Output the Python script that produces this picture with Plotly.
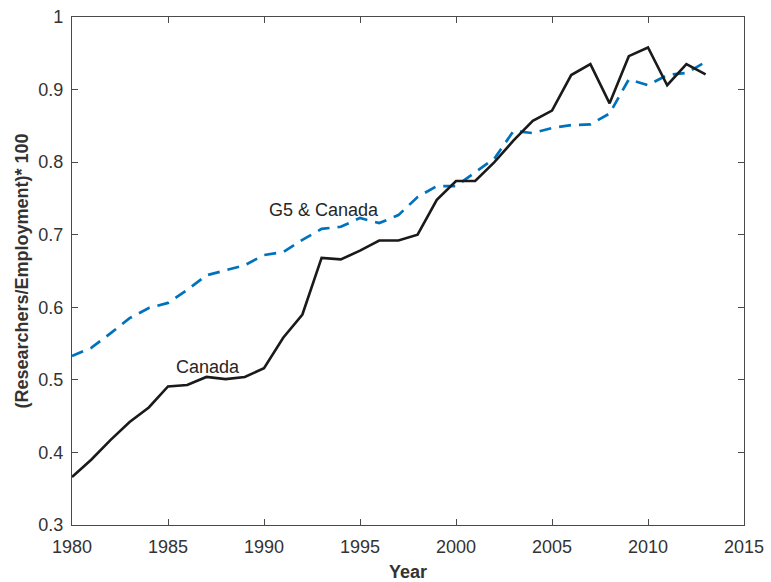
import plotly.graph_objects as go

years = list(range(1980, 2014))

canada = [0.366, 0.390, 0.417, 0.442, 0.462, 0.491, 0.493, 0.504, 0.501, 0.504,
          0.516, 0.558, 0.590, 0.668, 0.666, 0.678, 0.692, 0.692, 0.700, 0.748,
          0.774, 0.774, 0.800, 0.830, 0.857, 0.871, 0.920, 0.935, 0.881, 0.946,
          0.958, 0.906, 0.935, 0.921]

g5_canada = [0.533, 0.544, 0.564, 0.585, 0.599, 0.606, 0.624, 0.644, 0.651, 0.658,
             0.672, 0.676, 0.693, 0.708, 0.711, 0.723, 0.716, 0.727, 0.752, 0.767,
             0.767, 0.786, 0.805, 0.843, 0.840, 0.847, 0.851, 0.852, 0.867, 0.914,
             0.906, 0.920, 0.923, 0.938]

x_ticks = [1980, 1985, 1990, 1995, 2000, 2005, 2010, 2015]
y_ticks = [0.3, 0.4, 0.5, 0.6, 0.7, 0.8, 0.9, 1.0]
y_tick_text = ["0.3", "0.4", "0.5", "0.6", "0.7", "0.8", "0.9", "1"]

FONT = "Liberation Sans, Arial, sans-serif"
AXIS = "#4a4a4a"
TEXT = "#333333"

fig = go.Figure()
fig.add_trace(go.Scatter(x=years, y=g5_canada, mode="lines", name="G5 & Canada",
                         line=dict(color="#0072BD", width=2.7, dash="12px,8px")))
fig.add_trace(go.Scatter(x=years, y=canada, mode="lines", name="Canada",
                         line=dict(color="#1a1a1a", width=2.6)))

fig.add_annotation(x=1987.1, y=0.518, text="Canada", showarrow=False,
                   font=dict(family=FONT, size=18, color="#262626"))
fig.add_annotation(x=1993.15, y=0.734, text="G5 &amp; Canada", showarrow=False,
                   font=dict(family=FONT, size=18, color="#262626"))

axis_common = dict(showline=True, linecolor=AXIS, linewidth=1.3, mirror="ticks",
                   ticks="inside", ticklen=6, tickcolor=AXIS, tickwidth=1.2,
                   showgrid=False, zeroline=False, automargin=False,
                   tickfont=dict(family=FONT, size=18, color=TEXT))

fig.update_xaxes(range=[1980, 2015], tickvals=x_ticks, ticklabelstandoff=5,
                 title=dict(text="<b>Year</b>", font=dict(family=FONT, size=18, color=TEXT),
                            standoff=11),
                 **axis_common)
fig.update_yaxes(range=[0.3, 1.0], tickvals=y_ticks, ticktext=y_tick_text,
                 ticklabelstandoff=4,
                 title=dict(text="<b>(Researchers/Employment)* 100</b>",
                            font=dict(family=FONT, size=18, color=TEXT), standoff=4),
                 **axis_common)

fig.update_layout(width=771, height=582, showlegend=False,
                  margin=dict(l=72, r=27, t=17, b=57),
                  paper_bgcolor="white", plot_bgcolor="white")

fig.write_html("out.html")
